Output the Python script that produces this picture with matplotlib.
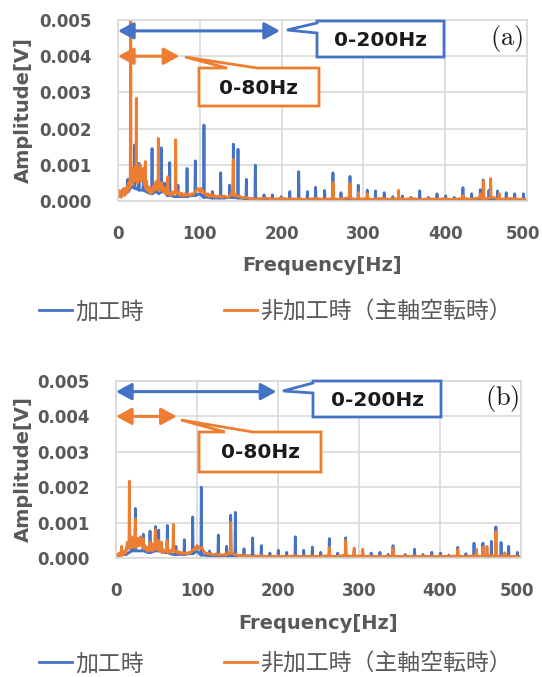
import numpy as np
import matplotlib
matplotlib.use("Agg")
import matplotlib.pyplot as plt
from matplotlib.patches import Polygon
from matplotlib.transforms import ScaledTranslation

# ---------------- data (amplitudes in mV, frequencies in Hz) ----------------
# frequency grids for the noise floors
grid_low = np.arange(0, 61, 1)        # 0..60 Hz, 1 Hz
grid_mid = np.arange(62, 161, 2)      # 62..160 Hz, 2 Hz
grid_high = np.arange(170, 501, 10)   # 170..500 Hz, 10 Hz

# (a) machining (blue)
a_blue_floor_f = [0, 3, 6, 9, 12, 15, 18, 22, 26, 30, 35, 40, 45, 50, 55, 60, 70, 80, 90, 100,
                  110, 120, 130, 140, 150, 160, 180, 200, 250, 300, 350, 400, 450, 500]
a_blue_floor_a = [0.15, 0.25, 0.2, 0.3, 0.25, 0.35, 0.4, 0.35, 0.3, 0.3, 0.25, 0.2, 0.25, 0.2, 0.25,
                  0.15, 0.12, 0.12, 0.15, 0.2, 0.1, 0.08, 0.08, 0.1, 0.08, 0.06, 0.05, 0.04, 0.04,
                  0.04, 0.04, 0.04, 0.04, 0.04]
a_blue_peak_f = [12, 20.4, 25.7, 31, 41.6, 47, 53, 57, 63.2, 73.3, 84.4, 94.5, 105.1, 115.3, 125.5,
                 136.5, 141, 146.7, 156.9, 167.9, 178.5, 188.7, 199.5, 210, 220.9, 231.5, 241.6,
                 252.6, 262.8, 272.6, 283.6, 293.7, 304.7, 314.8, 325.4, 336, 347.8, 358, 368.9,
                 379.5, 390, 400.6, 411, 421.7, 432.3, 442.9, 446.5, 453.5, 464, 474.6, 485, 495.7]
a_blue_peak_a = [0.6, 1.55, 1.04, 0.55, 1.45, 0.4, 1.47, 0.5, 1.06, 0.44, 0.9, 1.11, 2.1, 0.26, 0.78,
                 0.44, 1.57, 1.43, 0.6, 0.99, 0.17, 0.17, 0.12, 0.26, 0.81, 0.26, 0.38,
                 0.29, 0.78, 0.23, 0.68, 0.44, 0.3, 0.28, 0.23, 0.12, 0.14, 0.1, 0.28,
                 0.1, 0.2, 0.14, 0.1, 0.37, 0.2, 0.31, 0.58, 0.3, 0.28, 0.23, 0.2, 0.2]

# (a) non-machining (orange): noise floor on grid_low / grid_mid / grid_high
a_orng_low = [0.15, 0.3, 0.12, 0.25, 0.1, 0.3, 0.2, 0.35, 0.15, 0.3, 0.2, 0.4, 0.25, 0.5, 0.35,
              0.7, 0.5, 0.9, 0.45, 0.85, 0.55, 0.95, 0.6, 0.8, 0.5, 0.9, 0.6, 1.0, 0.55, 0.85,
              0.6, 0.9, 0.45, 0.7, 0.35, 0.55, 0.3, 0.4, 0.25, 0.35, 0.2, 0.3, 0.25, 0.4, 0.3,
              0.5, 0.3, 0.55, 0.35, 0.5, 0.3, 0.45, 0.3, 0.5, 0.3, 0.4, 0.25, 0.35, 0.2, 0.3, 0.2]
a_orng_mid = [0.25, 0.15, 0.25, 0.18, 0.3, 0.2, 0.25, 0.15, 0.22, 0.15, 0.2, 0.15, 0.2, 0.15,
              0.2, 0.18, 0.25, 0.3, 0.35, 0.25, 0.35, 0.22, 0.25, 0.15, 0.2, 0.12, 0.18, 0.12,
              0.15, 0.1, 0.13, 0.15, 0.1, 0.12, 0.14, 0.11, 0.1, 0.12, 0.2, 0.16, 0.15, 0.18,
              0.12, 0.14, 0.12, 0.08, 0.1, 0.08, 0.1, 0.06]
a_orng_high = [0.05, 0.08, 0.05, 0.07, 0.05, 0.06, 0.04, 0.07, 0.05, 0.06, 0.05, 0.08, 0.05,
               0.06, 0.04, 0.07, 0.05, 0.06, 0.05, 0.07, 0.04, 0.06, 0.05, 0.06, 0.04, 0.07,
               0.05, 0.08, 0.06, 0.09, 0.05, 0.07, 0.05, 0.05]
a_orng_peak_f = [15.5, 22.4, 33.4, 49.3, 61, 70.5, 141, 263, 283, 294, 305, 343, 422, 443, 447,
                 455.6, 466]
a_orng_peak_a = [6.5, 2.84, 1.09, 1.73, 0.67, 1.69, 1.15, 0.5, 0.48, 0.23, 0.2, 0.3, 0.15, 0.2,
                 0.55, 0.62, 0.2]

# (b) machining (blue)
b_blue_floor_f = [0, 10, 20, 30, 40, 50, 60, 70, 80, 90, 100, 110, 120, 150, 200, 300, 400, 500]
b_blue_floor_a = [0.05, 0.1, 0.2, 0.2, 0.15, 0.2, 0.15, 0.1, 0.1, 0.12, 0.2, 0.08, 0.06, 0.06,
                  0.04, 0.04, 0.04, 0.04]
b_blue_peak_f = [12, 19.8, 23.9, 33.7, 42, 48.6, 52.7, 63.4, 74, 84.4, 94.7, 105.3, 115.5, 126.3,
                 136.6, 141.6, 147.3, 158, 168.7, 179.4, 190, 200.4, 210.7, 221.4, 231.7, 242.4,
                 252.7, 263.4, 273.7, 283.5, 294, 304.6, 315, 325.8, 336, 342, 357, 368.6, 379,
                 389.9, 400.6, 411, 421.9, 432, 442, 453, 463.4, 469, 475.4, 484.8, 495.5]
b_blue_peak_a = [0.2, 0.48, 1.4, 0.67, 0.76, 0.89, 0.79, 0.92, 0.33, 0.52, 1.16, 2.0, 0.2, 0.65,
                 0.33, 1.21, 1.29, 0.26, 0.57, 0.35, 0.14, 0.22, 0.16, 0.6, 0.22, 0.31,
                 0.16, 0.55, 0.14, 0.57, 0.2, 0.15, 0.14, 0.16, 0.1, 0.35, 0.1, 0.25, 0.1,
                 0.16, 0.14, 0.08, 0.3, 0.12, 0.42, 0.42, 0.47, 0.88, 0.44, 0.33, 0.16]

# (b) non-machining (orange): noise floor on grid_low / grid_mid / grid_high
b_orng_low = [0.05, 0.1, 0.06, 0.12, 0.08, 0.15, 0.1, 0.12, 0.08, 0.15, 0.1, 0.2, 0.15, 0.3,
              0.45, 0.25, 0.4, 0.35, 0.5, 0.3, 0.45, 0.35, 0.55, 0.3, 0.5, 0.3, 0.55, 0.35,
              0.5, 0.35, 0.55, 0.4, 0.5, 0.3, 0.4, 0.25, 0.35, 0.25, 0.3, 0.2, 0.3, 0.2, 0.3,
              0.25, 0.35, 0.2, 0.4, 0.3, 0.4, 0.25, 0.35, 0.25, 0.35, 0.2, 0.3, 0.2, 0.3, 0.15,
              0.25, 0.15, 0.2]
b_orng_mid = [0.2, 0.15, 0.22, 0.15, 0.25, 0.18, 0.2, 0.14, 0.18, 0.12, 0.16, 0.12, 0.15, 0.12,
              0.16, 0.15, 0.2, 0.25, 0.3, 0.25, 0.32, 0.28, 0.3, 0.2, 0.15, 0.12, 0.14, 0.1,
              0.12, 0.08, 0.1, 0.12, 0.08, 0.1, 0.09, 0.08, 0.1, 0.08, 0.15, 0.12, 0.12, 0.14,
              0.1, 0.1, 0.08, 0.06, 0.08, 0.06, 0.08, 0.05]
b_orng_high = [0.04, 0.06, 0.04, 0.05, 0.04, 0.06, 0.04, 0.05, 0.04, 0.06, 0.04, 0.07, 0.05,
               0.06, 0.04, 0.05, 0.04, 0.06, 0.04, 0.05, 0.04, 0.05, 0.04, 0.05, 0.04, 0.06,
               0.04, 0.06, 0.05, 0.07, 0.05, 0.06, 0.04, 0.04]
b_orng_peak_f = [7, 16.5, 19, 23.9, 27, 30, 33.5, 42, 48.6, 52, 56, 63, 70.8, 100, 141.6, 263.5,
                 283.5, 294, 304.6, 342, 421.9, 445, 453, 458, 469, 480]
b_orng_peak_a = [0.33, 2.17, 0.6, 1.1, 0.55, 0.6, 0.55, 0.45, 0.8, 0.5, 0.45, 0.5, 0.95, 0.35,
                 1.0, 0.3, 0.5, 0.28, 0.25, 0.28, 0.24, 0.25, 0.31, 0.33, 0.75, 0.15]

x_ticks = [0, 100, 200, 300, 400, 500]
y_ticks = [0.000, 0.001, 0.002, 0.003, 0.004, 0.005]
labels = ["加工時", "非加工時（主軸空転時）"]
panel_tags = ["(a)", "(b)"]

BLUE = "#4472C4"
ORANGE = "#ED7D31"
GRAY = "#595959"
GRID = "#D9D9D9"
W, H = 542, 677
CJK = ["Noto Sans CJK JP", "DejaVu Sans"]

grid_all = np.concatenate([grid_low, grid_mid, grid_high])


def build(ff, fa, pf, pa):
    ff = np.asarray(ff, float); fa = np.asarray(fa, float)
    pf = np.asarray(pf, float); pa = np.asarray(pa, float)
    idx = np.abs(ff[None, :] - pf[:, None]).argmin(axis=1)
    base = fa[idx]
    x = np.concatenate([ff, pf - 0.5, pf, pf + 0.5])
    y = np.concatenate([fa, base, pa, base])
    o = np.argsort(x, kind="stable")
    return x[o], y[o] * 1e-3


def P(x, y):
    return (x / W, 1 - y / H)


fig = plt.figure(figsize=(W / 100, H / 100), dpi=100)

panels = [
    dict(rect=(118, 20, 527, 201),
         blue=(a_blue_floor_f, a_blue_floor_a, a_blue_peak_f, a_blue_peak_a),
         orng=(grid_all, a_orng_low + a_orng_mid + a_orng_high, a_orng_peak_f, a_orng_peak_a),
         bbox=(317, 21, 444, 57), btip=(287, 30), bw=(23, 33),
         obox=(199, 68, 319, 106), otip=(185, 57), ow=(227, 257),
         tag=(507, 38), xlab_y=256, leg_y=312),
    dict(rect=(116, 381, 521, 558),
         blue=(b_blue_floor_f, b_blue_floor_a, b_blue_peak_f, b_blue_peak_a),
         orng=(grid_all, b_orng_low + b_orng_mid + b_orng_high, b_orng_peak_f, b_orng_peak_a),
         bbox=(313, 381, 441, 417), btip=(283, 391), bw=(383, 393),
         obox=(199, 432, 321, 472), otip=(181, 420), ow=(225, 253),
         tag=(502, 398), xlab_y=614, leg_y=664),
]

for i, pnl in enumerate(panels):
    l, t, r, b = pnl["rect"]
    ax = fig.add_axes([l / W, 1 - b / H, (r - l) / W, (b - t) / H])
    xb, yb = build(*pnl["blue"])
    xo, yo = build(*pnl["orng"])
    lb, = ax.plot(xb, yb, color=BLUE, lw=2.0, label=labels[0])
    lo, = ax.plot(xo, yo, color=ORANGE, lw=2.0, label=labels[1])
    ax.set_xlim(x_ticks[0], x_ticks[-1])
    ax.set_ylim(y_ticks[0], y_ticks[-1])
    ax.set_xticks(x_ticks)
    ax.set_yticks(y_ticks)
    ax.set_xticklabels([str(v) for v in x_ticks])
    ax.set_yticklabels([f"{v:.3f}" for v in y_ticks])
    ax.grid(True, color=GRID, lw=1.2)
    ax.set_axisbelow(True)
    for s in ax.spines.values():
        s.set_color(GRID)
        s.set_linewidth(1.2)
    ax.tick_params(length=0, colors=GRAY, labelsize=12)
    ax.tick_params(axis="x", pad=17)
    ax.tick_params(axis="y", pad=19)
    for tl in ax.get_xticklabels() + ax.get_yticklabels():
        tl.set_fontweight("bold")
        tl.set_color(GRAY)
    last = ax.get_xticklabels()[-1]
    last.set_transform(last.get_transform() +
                       ScaledTranslation(-3 / 72, 0, fig.dpi_scale_trans))
    ax.set_xlabel("Frequency[Hz]", fontsize=14, fontweight="bold", color=GRAY)
    ax.set_ylabel("Amplitude[V]", fontsize=14, fontweight="bold", color=GRAY)
    ax.xaxis.set_label_coords(0.5, (b - pnl["xlab_y"]) / (b - t))
    ax.yaxis.set_label_coords((33 - l) / (r - l), 0.5)

    # double arrows
    ax.annotate("", xy=(0, 0.0047), xytext=(198, 0.0047),
                arrowprops=dict(arrowstyle="<|-|>,head_length=0.55,head_width=0.3",
                                color=BLUE, lw=2.2, mutation_scale=17,
                                shrinkA=0, shrinkB=0), annotation_clip=False)
    ax.annotate("", xy=(0, 0.0040), xytext=(75, 0.0040),
                arrowprops=dict(arrowstyle="<|-|>,head_length=0.55,head_width=0.3",
                                color=ORANGE, lw=2.2, mutation_scale=17,
                                shrinkA=0, shrinkB=0), annotation_clip=False)

    # blue callout
    x0, y0, x1, y1 = pnl["bbox"]
    tx, ty = pnl["btip"]
    w0, w1 = pnl["bw"]
    pts = [P(x0, y0), P(x1, y0), P(x1, y1), P(x0, y1), P(x0, w1), P(tx, ty), P(x0, w0)]
    fig.patches.append(Polygon(pts, closed=True, transform=fig.transFigure,
                               facecolor="white", edgecolor=BLUE, lw=2.0, zorder=5))
    fig.text(*P((x0 + x1) / 2, (y0 + y1) / 2 + 1), "0-200Hz", ha="center", va="center",
             fontsize=14.5, fontweight="bold", color="#1a1a1a", zorder=6)

    # orange callout
    x0, y0, x1, y1 = pnl["obox"]
    tx, ty = pnl["otip"]
    w0, w1 = pnl["ow"]
    pts = [P(x0, y0), P(w0, y0), P(tx, ty), P(w1, y0), P(x1, y0), P(x1, y1), P(x0, y1)]
    fig.patches.append(Polygon(pts, closed=True, transform=fig.transFigure,
                               facecolor="white", edgecolor=ORANGE, lw=2.0, zorder=5))
    fig.text(*P((x0 + x1) / 2, (y0 + y1) / 2 + 1), "0-80Hz", ha="center", va="center",
             fontsize=14.5, fontweight="bold", color="#1a1a1a", zorder=6)

    # panel tag
    fig.text(*P(*pnl["tag"]), r"$\mathrm{" + panel_tags[i] + "}$", ha="center", va="center",
             fontsize=19, color="#1a1a1a", math_fontfamily="cm")

    # legend
    fig.legend(handles=[lb, lo], labels=labels, loc="center left",
               bbox_to_anchor=P(39, pnl["leg_y"]), ncol=2, frameon=False,
               handlelength=1.45, handletextpad=0.12, columnspacing=3.5,
               borderpad=0, borderaxespad=0,
               prop=dict(family=CJK, size=16.5), labelcolor=GRAY)

fig.savefig("out.png", dpi=100)
